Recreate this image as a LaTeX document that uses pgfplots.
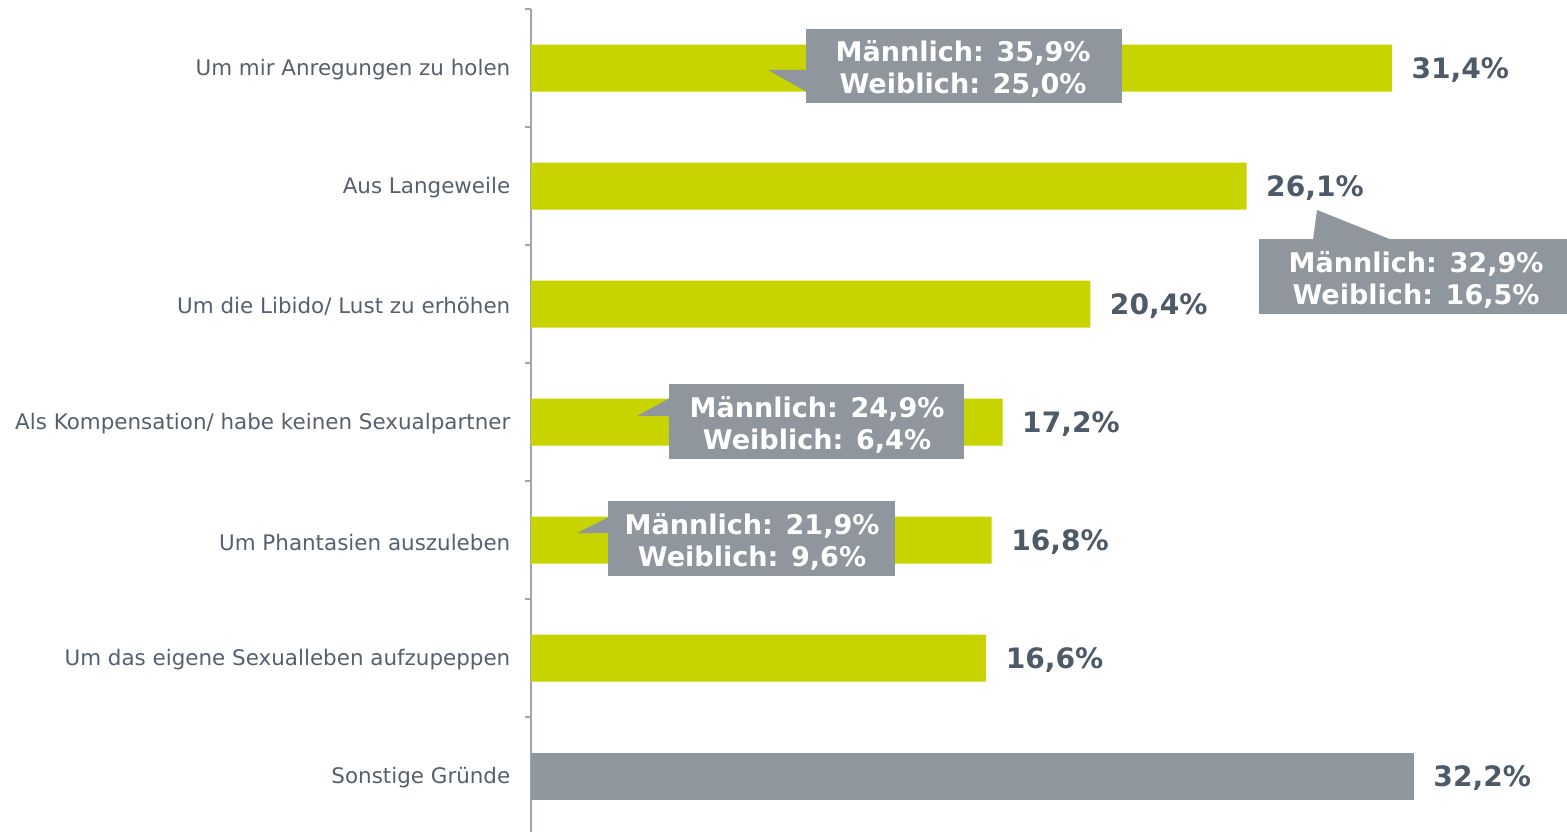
\documentclass[border=0pt]{standalone}
\usepackage{pgfplots}
\pgfplotsset{compat=1.18}
\usepackage{fontspec}
\setmainfont{DejaVu Sans}

\definecolor{barGreen}{HTML}{C8D400}
\definecolor{barGrey}{HTML}{8F979F}
\definecolor{boxGrey}{HTML}{8F969E}
\definecolor{valText}{HTML}{4E5A67}
\definecolor{labText}{HTML}{56606C}
\definecolor{axGrey}{HTML}{A0A6AC}

\begin{document}
\begin{tikzpicture}
\useasboundingbox (0,0) rectangle (156.7mm,83.1mm);
\begin{axis}[
  at={(53.1mm,-0.4mm)}, anchor=south west,
  scale only axis,
  width=103.9mm, height=82.6mm,
  xmin=0, xmax=37.9,
  ymin=-0.5, ymax=6.5,
  y dir=reverse,
  xbar, bar width=4.7mm, bar shift=0pt,
  axis x line=none,
  axis y line*=left,
  axis line style={axGrey, line width=0.35pt},
  ytick={0,...,6},
  yticklabels={Um mir Anregungen zu holen, Aus Langeweile, Um die Libido/ Lust zu erhöhen, Als Kompensation/ habe keinen Sexualpartner, Um Phantasien auszuleben, Um das eigene Sexualleben aufzupeppen, Sonstige Gründe},
  major tick length=0pt,
  minor ytick={-0.5,0.5,...,6.5},
  minor tick length=0.6mm,
  tick align=outside,
  minor tick style={axGrey, line width=0.35pt},
  yticklabel style={font=\fontsize{6.1}{7}\selectfont, text=labText, inner sep=0pt, xshift=-2.0mm, yshift=-0.2mm},
  nodes near coords={\pgfmathprintnumber[assume math mode=true, use comma, fixed, fixed zerofill, precision=1]{\pgfplotspointmeta}\%},
  nodes near coords style={font=\fontsize{8}{9}\bfseries, text=valText, anchor=west, inner sep=0pt, xshift=1.9mm, yshift=-0.2mm},
  clip=false,
]
\addplot[draw=none, fill=barGreen] coordinates {(31.4,0) (26.1,1) (20.4,2) (17.2,3) (16.8,4) (16.6,5)};
\addplot[draw=none, fill=barGrey] coordinates {(32.2,6)};
\end{axis}

% callouts, drawn in pixel units of the reference
\begin{scope}[shift={(0,83.1mm)}, x=0.1mm, y=-0.1mm,
  ctext/.style={text=white, font=\fontsize{7.7}{9.1}\selectfont\bfseries, align=center, inner sep=0pt}]
  \fill[boxGrey] (768,70) -- (807,70) -- (807,92) -- cycle;
  \fill[boxGrey] (806,29) rectangle (1122,103);
  \node[ctext] at (963,69) {Männlich: 35,9\%\\Weiblich: 25,0\%};

  \fill[boxGrey] (1317,210) -- (1313,240) -- (1392,240) -- cycle;
  \fill[boxGrey] (1259,239) rectangle (1567,314);
  \node[ctext] at (1416,280) {Männlich: 32,9\%\\Weiblich: 16,5\%};

  \fill[boxGrey] (637,416) -- (670,398) -- (670,416) -- cycle;
  \fill[boxGrey] (669,384) rectangle (964,459);
  \node[ctext] at (817,425) {Männlich: 24,9\%\\Weiblich: 6,4\%};

  \fill[boxGrey] (577,533) -- (609,517) -- (609,533) -- cycle;
  \fill[boxGrey] (608,501) rectangle (895,576);
  \node[ctext] at (752,542) {Männlich: 21,9\%\\Weiblich: 9,6\%};
\end{scope}
\end{tikzpicture}
\end{document}
